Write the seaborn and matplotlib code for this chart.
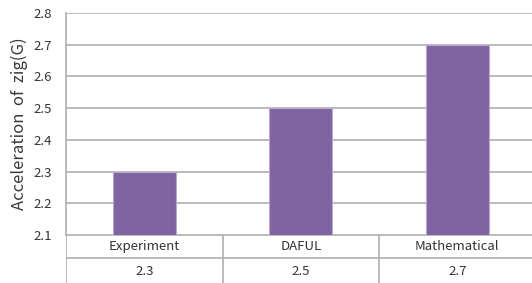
import matplotlib
matplotlib.use("Agg")
import matplotlib.pyplot as plt
import seaborn as sns
import pandas as pd

categories = ["Experiment", "DAFUL", "Mathematical"]
values = [2.3, 2.5, 2.7]
value_labels = ["2.3", "2.5", "2.7"]
yticks = [2.1, 2.2, 2.3, 2.4, 2.5, 2.6, 2.7, 2.8]

sns.set_style("white")
plt.rcParams['font.family'] = ['Noto Sans CJK KR', 'DejaVu Sans']

W, H = 532, 283
fig = plt.figure(figsize=(W / 100, H / 100), dpi=100)

left, right = 66, 535.5
top, axbottom, rowline, tbottom = 13, 235, 258, 283
ax = fig.add_axes([left / W, 1 - axbottom / H, (right - left) / W, (axbottom - top) / H])

df = pd.DataFrame({"cat": categories, "val": values})
sns.barplot(data=df, x="cat", y="val", color="#8064A2", saturation=1, width=0.4,
            edgecolor="#B9A8CF", linewidth=0.8, ax=ax, zorder=3)
ax.set_ylim(2.1, 2.8)
ax.set_xlim(-0.5, 2.5)
ax.set_yticks(yticks)
ax.set_yticklabels([f"{t:.1f}" for t in yticks], fontsize=9.5, color="#333333")
ax.tick_params(axis="y", length=0, pad=10)
ax.set_xticks([])
ax.set_xlabel("")
ax.set_ylabel("Acceleration  of  zig(G)", fontsize=12, color="#3a3a3a", labelpad=4)
ax.yaxis.grid(True, color="#AFAFAF", linewidth=1.2, zorder=0)
ax.set_axisbelow(True)
for s in ["top", "right", "bottom"]:
    ax.spines[s].set_visible(False)
ax.spines["left"].set_color("#AFAFAF")
ax.spines["left"].set_linewidth(1.2)

# table below the plot
tax = fig.add_axes([left / W, 1 - tbottom / H, (right - left) / W, (tbottom - axbottom) / H])
tax.set_xlim(-0.5, 2.5)
tax.set_ylim(tbottom, axbottom)
tax.axis("off")
lc = "#AFAFAF"
tax.axhline(axbottom, color=lc, lw=1.2)
tax.axhline(rowline, color=lc, lw=1.2)
for xb in [-0.5, 0.5, 1.5, 2.5]:
    tax.axvline(xb, color=lc, lw=1.2)
for i, (c, v) in enumerate(zip(categories, value_labels)):
    tax.text(i, (axbottom + rowline) / 2, c, ha="center", va="center", fontsize=9.5, color="#333333")
    tax.text(i, (rowline + tbottom) / 2 + 1, v, ha="center", va="center", fontsize=9.5, color="#333333")

fig.savefig("out.png", dpi=100)
